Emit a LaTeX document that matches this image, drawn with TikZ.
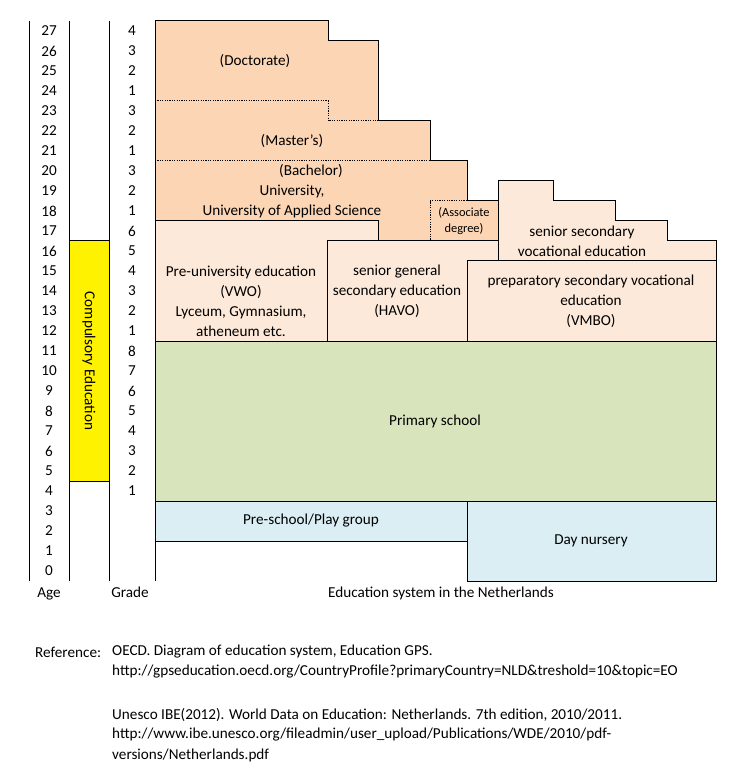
\documentclass[tikz,border=0pt]{standalone}
\usepackage{fontspec}
\setmainfont{Carlito}
\definecolor{unicol}{HTML}{FCD5B4}
\definecolor{seccol}{HTML}{FDE9D9}
\definecolor{primcol}{HTML}{D8E4BC}
\definecolor{precol}{HTML}{DAEEF3}

\begin{document}
\begin{tikzpicture}[line cap=butt,line join=miter,x=1pt,y=-1pt,
    lbl/.style={inner sep=0pt,align=center,font=\fontsize{15.2}{20}\selectfont},
    smalllbl/.style={inner sep=0pt,align=center,font=\fontsize{12.4}{16}\selectfont},
    dotline/.style={line width=1pt,dash pattern=on 1.2pt off 1.2pt}]
        \useasboundingbox (0,0) rectangle (749,783);

        % university part
        \filldraw [line width=1pt,fill=unicol] (155,21) -- (328,21) -- (328,41) -- (378,41) -- (378,121) -- (430,121) -- (430,161) -- (467,161) -- (467,201) -- (498,201) -- (498,241) -- (378,241) -- (378,221) -- (155,221) -- cycle;
        \draw [dotline] (155,101) -- (328,101) -- (328,121) -- (378,121);
        \draw [dotline] (155,161) -- (430,161);
        \draw [dotline] (467,201) -- (430,201) -- (430,241);

        % secondary part
        \filldraw [line width=1pt,fill=seccol] (155,221) -- (378,221) -- (378,241) -- (327,241) -- (327,341) -- (155,341) -- cycle;
        \filldraw [line width=1pt,fill=seccol] (327,241) -- (498,241) -- (498,261) -- (467,261) -- (467,341) -- (327,341) -- cycle;
        \filldraw [line width=1pt,fill=seccol] (498,181) -- (553,181) -- (553,201) -- (615,201) -- (615,221) -- (667,221) -- (667,241) -- (716,241) -- (716,261) -- (498,261) -- cycle;
        \filldraw [line width=1pt,fill=seccol] (467,261) rectangle (716,341);

        % primary and pre-school
        \filldraw [line width=1pt,fill=primcol] (155,341) rectangle (716,501);
        \filldraw [line width=1pt,fill=precol] (155,501) rectangle (467,541);
        \filldraw [line width=1pt,fill=precol] (467,501) rectangle (716,581);

        % columns
        \filldraw [line width=1pt,fill=yellow] (69,241) rectangle (109,481);
        \draw [line width=1pt] (29,21) -- (29,581);
        \draw [line width=1pt] (69,21) -- (69,581);
        \draw [line width=1pt] (109,21) -- (109,581);
        \draw [line width=1pt] (155,21) -- (155,581);

        \foreach \a in {0,...,27}
            \node [lbl] (age\a) at (49,{571-20*\a}) {\a};
        \foreach \a/\g in {27/4,26/3,25/2,24/1,23/3,22/2,21/1,20/3,19/2,18/1,17/6,16/5,15/4,14/3,13/2,12/1,11/8,10/7,9/6,8/5,7/4,6/3,5/2,4/1}
            \node [lbl] (grade\a) at (132,{571-20*\a}) {\g};
        \node [lbl,rotate=-90] (compulsory) at (89,361) {Compulsory Education};

        \node [lbl] (doct) at (255,61) {(Doctorate)};
        \node [lbl] (mast) at (292,141) {(Master's)};
        \node [lbl] (bach) at (311,171) {(Bachelor)};
        \node [lbl] (univ) at (292,201) {University,\\University of Applied Science};
        \node [smalllbl] (assoc) at (464,221) {(Associate\\degree)};
        \node [lbl] (ssv) at (582,241) {senior secondary\\vocational education};
        \node [lbl] (vwo) at (241,301) {Pre-university education\\(VWO)\\Lyceum, Gymnasium,\\atheneum etc.};
        \node [lbl] (havo) at (397,291) {senior general\\secondary education\\(HAVO)};
        \node [lbl] (vmbo) at (591,301) {preparatory secondary vocational\\education\\(VMBO)};
        \node [lbl] (prim) at (435,421) {Primary school};
        \node [lbl] (presch) at (311,521) {Pre-school/Play group};
        \node [lbl] (nursery) at (591,541) {Day nursery};

        \node [lbl,anchor=base] (agehead) at (49,597) {Age};
        \node [lbl,anchor=base] (gradehead) at (130,597) {Grade};
        \node [lbl,anchor=base] (caption) at (441,597) {Education system in the Netherlands};

        \node [lbl,anchor=west] (refhead) at (35,652) {Reference:};
        \node [lbl,anchor=west] (ref1) at (112,652) {OECD. Diagram of education system, Education GPS.};
        \node [lbl,anchor=west] (ref2) at (112,672) {http://gpseducation.oecd.org/CountryProfile?primaryCountry=NLD\&treshold=10\&topic=EO};
        \node [lbl,anchor=west] (ref3) at (112,715) {Unesco IBE(2012). World Data on Education: Netherlands. 7th edition, 2010/2011.};
        \node [lbl,anchor=west] (ref4) at (112,735) {http://www.ibe.unesco.org/fileadmin/user\_upload/Publications/WDE/2010/pdf-};
        \node [lbl,anchor=west] (ref5) at (112,755) {versions/Netherlands.pdf};
        
\end{tikzpicture}
\end{document}
